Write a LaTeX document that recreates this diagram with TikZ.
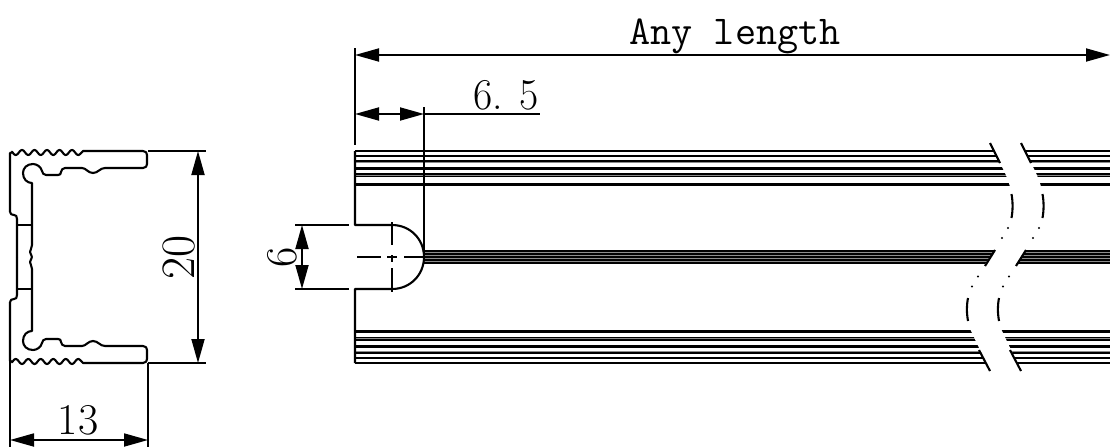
\documentclass[tikz,border=0pt]{standalone}
\usetikzlibrary{arrows.meta}
\tikzset{
 ln/.style={line width=2.1pt,black,line join=round},
 thin line/.style={line width=1.8pt,black},
 dimarrow/.style={line width=1.8pt,black,{Triangle[length=24pt,width=13pt]}-{Triangle[length=24pt,width=13pt]}},
 dimtext/.style={font=\fontsize{44}{44}\selectfont,inner sep=0pt,text=black},
 stripeb/.style={line width=3pt,black},
 stripet/.style={line width=2pt,black},
 stripeg/.style={line width=2.4pt,black!45},
}
\newcommand{\halfprofile}{%
 \draw[ln] (10,212) .. controls (10,214) and (12,215) .. (14,215) .. controls (16,215) and (17,216) .. (17,219) -- (17,257);
 \draw[ln] (10,212) -- (10,153) -- (12,152.5)
   -- plot[domain=12:80,samples=90,smooth] (\x,{152.5-2.5*cos(28.8*(\x-22))})
   -- (83,151) -- (143,151) .. controls (146,151) and (147,153) .. (147,155) -- (147,164)
   .. controls (147,166) and (146,168) .. (143,168) -- (105,168)
   .. controls (100,168) and (98,173) .. (93,173) .. controls (88,173) and (86,168) .. (82,168)
   -- (65,168) .. controls (62,168) and (62,170) .. (61,172) .. controls (61,174) and (60,175) .. (58,175)
   -- (46,175) .. controls (43,175) and (43,173) .. (42,171) .. controls (41,167) and (37,164) .. (33,164)
   .. controls (27,164) and (23,168) .. (23,173) .. controls (23,179) and (27,183) .. (32,183)
   -- (32,245) .. controls (32,248) and (30,250) .. (30,252) .. controls (30,254) and (32,255) .. (32,257);
 \draw[thin line] (17,225) -- (32,225);
}
\begin{document}
\begin{tikzpicture}[x=1pt,y=-1pt]
\useasboundingbox (0,0) rectangle (1110,447);
% stripes
\foreach \a/\s in {151/stripet,156/stripet,162/stripeg,168/stripeb,175/stripeg,184/stripeb,331/stripeb,339/stripeg,346/stripeb,352/stripeg,358/stripet,363/stripet}
  {\draw[\s] (355,\a) -- (1110,\a);}
\draw[line width=1.2pt,black] (355,161) -- (1110,161) (355,174) -- (1110,174) (355,176.5) -- (1110,176.5)
  (355,337.5) -- (1110,337.5) (355,340) -- (1110,340) (355,353) -- (1110,353);
\fill[black!45] (424,251) rectangle (1110,263);
\foreach \a in {251,254,257,260,263} {\draw[line width=1.4pt,black] (424,\a) -- (1110,\a);}
% break band
\fill[white] (990,143) -- (1000,163) .. controls (1012,185) and (1016,205) .. (1011,222)
  -- (995,250) -- (983,267) .. controls (965,290) and (962,315) .. (972,333) -- (990,371)
  -- (1021,371) -- (1003,333) .. controls (993,315) and (996,290) .. (1014,267) -- (1026,250)
  -- (1042,222) .. controls (1047,205) and (1043,185) .. (1031,163) -- (1021,143) -- cycle;
\foreach \d in {0,31}{
 \begin{scope}[xshift=\d pt]
 \draw[ln] (990,143) -- (1000,163);
 \draw[ln] (1011.5,194) .. controls (1013,203) and (1013,209) .. (1011.5,218);
 \fill (1008,228) circle (1.1pt) (1002,238) circle (1.1pt) (978,276.5) circle (1.1pt) (972,286.5) circle (1.1pt);
 \draw[ln] (995,250) -- (985,266);
 \draw[ln] (968,298) .. controls (966.5,306) and (966.5,312) .. (968,321);
 \draw[ln] (979,350) -- (990,371);
 \end{scope}}
% profile
\halfprofile
\begin{scope}[shift={(0,514)},yscale=-1]
\halfprofile
\end{scope}
% front view body
\coordinate (bl) at (355,151);
\coordinate (tl) at (355,225);
\coordinate (cap) at (392,225);
\coordinate (tip) at (424,257);
\draw[ln] (bl) -- (tl) -- (cap) .. controls (410,225) and (424,239) .. (tip) .. controls (424,275) and (410,289) .. (392,289) -- (355,289) -- (355,363);
\draw[ln] (424,107) -- (tip);
% centre lines
\draw[thin line] (392,222) -- (392,245) (392,255) -- (392,262) (392,268) -- (392,292);
\draw[thin line] (357,257) -- (381,257) (387,257) -- (397,257) (404,257) -- (426,257);
% dimension: Any length
\coordinate (al) at (355,55);
\coordinate (ar) at (1110,55);
\draw[ln] (355,48) -- (355,145);
\draw[dimarrow] (al) -- (ar);
\node[dimtext,anchor=base,font=\fontsize{41}{41}\selectfont\ttfamily] (anylen) at (735,44) {Any length};
% dimension 6.5
\coordinate (hl) at (355,114);
\coordinate (hr) at (424,114);
\draw[dimarrow] (hl) -- (hr);
\draw[thin line] (hr) -- (540,114);
\node[dimtext,anchor=base west,xscale=0.95] (d65) at (473,109) {6. 5};
% dimension 6
\coordinate (sa) at (302,225);
\coordinate (sb) at (302,289);
\draw[thin line] (295,225) -- (349,225) (295,289) -- (349,289);
\draw[dimarrow] (sa) -- (sb);
\node[dimtext,rotate=90,anchor=base] (d6) at (296,257) {6};
% dimension 20
\coordinate (va) at (198,151);
\coordinate (vb) at (198,363);
\draw[thin line] (148,151) -- (206,151) (148,363) -- (206,363);
\draw[dimarrow] (va) -- (vb);
\node[dimtext,rotate=90,anchor=base,font=\fontsize{48}{48}\selectfont] (d20) at (194,257) {20};
% dimension 13
\coordinate (wa) at (10,440);
\coordinate (wb) at (148,440);
\draw[thin line] (10,361) -- (10,447) (148,363) -- (148,447);
\draw[dimarrow] (wa) -- (wb);
\node[dimtext,anchor=base] (d13) at (78,434) {13};
\end{tikzpicture}
\end{document}
